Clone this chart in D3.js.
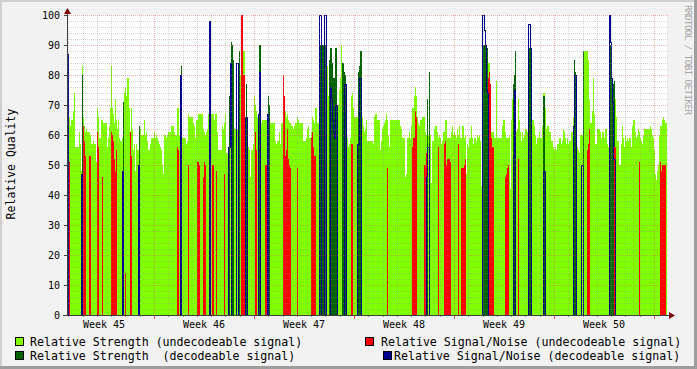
<!DOCTYPE html>
<html>
<head>
<meta charset="utf-8">
<script src="https://cdn.jsdelivr.net/npm/d3@7"></script>
<style>
html, body { margin: 0; padding: 0; background: #f2f2f2; }
svg { display: block; font-family: "DejaVu Sans Mono", monospace; }
text { white-space: pre; }
</style>
</head>
<body>
<svg id="chart" width="697" height="369"></svg>
<script>
// rrd archive: 600 consolidated rows over six weeks, one row every 100.8 minutes
var START = Date.UTC(2011, 10, 7, 21, 50, 24);
var STEP_MS = 100.8 * 60 * 1000;

// Relative Strength (undecodeable signal), one value per row
var strengthUndec = [
  72,72,66,63,65,65,68,74,56,56, 56,56,61,57,48,83,66,63,61,62,
  61,61,61,60,57,57,58,57,57,51, 69,66,59,59,65,65,64,64,64,64,
  56,59,63,69,83,69,67,64,72,65, 62,65,59,58,58,59,70,74,76,73,
  79,79,69,61,69,62,55,57,48,57, 55,55,63,62,60,60,60,65,60,61,
  58,55,55,57,59,59,59,61,59,60, 59,58,57,56,55,50,47,60,60,59,
  60,61,61,61,63,63,63,61,60,60, 69,69,60,60,60,59,59,59,59,57,
  58,67,66,66,66,66,64,63,59,65, 65,67,67,67,67,67,62,61,60,61,
  62,67,67,67,67,67,67,65,67,67, 61,55,55,55,55,63,62,64,67,54,
  54,54,54,65,65,65,65,62,62,62, 62,62,70,80,88,88,88,88,62,60,
  58,56,55,46,55,55,57,73,70,68, 66,67,67,67,64,65,65,65,65,65,
  65,65,64,64,64,64,64,64,58,57, 58,58,61,57,64,64,74,73,68,66,
  67,65,64,64,63,63,62,63,64,64, 66,65,64,64,64,64,58,58,58,59,
  62,63,59,59,61,66,65,64,69,69, 64,64,65,65,65,65,65,65,65,65,
  83,73,70,70,70,70,70,70,70,70, 69,70,75,79,90,70,70,65,62,60,
  59,56,57,59,73,74,69,66,66,66, 66,66,66,66,66,66,63,61,62,65,
  58,58,58,58,58,58,57,66,67,67, 65,65,65,55,58,62,63,64,65,67,
  65,60,56,65,65,65,65,65,65,65, 65,65,65,63,62,59,59,59,46,47,
  59,59,61,59,63,69,69,73,76,73, 66,64,63,65,65,66,66,66,61,60,
  60,60,60,60,44,58,58,62,63,63, 61,59,60,59,57,58,61,61,65,65,
  59,59,59,59,61,63,60,61,60,59, 62,60,63,59,59,63,63,59,60,47,
  57,56,59,59,63,59,57,59,59,58, 60,59,60,58,43,60,60,60,60,62,
  70,84,84,72,61,61,61,59,59,78, 59,59,59,59,59,63,65,65,61,59,
  59,59,60,42,65,72,62,62,62,61, 62,72,65,61,58,61,59,60,62,62,
  61,62,62,62,81,65,65,63,60,57, 59,59,61,59,59,63,74,74,69,62,
  63,63,61,61,58,58,56,55,56,55, 57,57,59,59,57,58,62,61,59,57,
  59,57,58,58,61,61,66,66,66,57, 56,55,54,60,60,60,88,88,88,88,
  88,85,72,64,64,68,79,67,57,57, 62,62,62,61,59,61,61,59,62,62,
  57,56,60,60,60,60,76,74,72,66, 58,58,50,50,57,63,59,56,60,58,
  59,58,59,59,56,63,65,65,61,59, 60,62,61,59,58,57,60,62,62,62,
  62,62,62,63,62,60,59,55,47,45, 48,50,60,63,63,65,66,65,64,64
];

// Relative Strength (decodeable signal): [row, value], zero elsewhere
var strengthDec = [
  [15,80],[56,71],[72,63],[114,83],[143,86],[162,73],[164,91],[165,90],[166,85],
  [172,88],[179,77],[192,90],[193,90],[201,73],[202,70],
  [252,90],[253,90],[254,90],[255,90],[256,90],[257,90],[258,90],
  [262,85],[263,89],[264,89],[265,84],[266,79],[267,79],[268,89],[269,89],
  [275,84],[276,84],[277,81],[278,80],[291,81],[292,83],[293,88],[294,88],
  [360,72],[362,81],[415,90],[416,90],[417,90],[418,90],[419,89],[420,89],
  [446,77],[447,80],[448,88],[462,89],[463,89],[476,73],[477,73],
  [507,85],[508,81],[516,88],[543,90],[544,84],[545,78],[546,77],[547,78]
];

// Relative Signal/Noise (undecodeable signal)
var snrUndec = [
  [1,58],[2,51],[16,63],[17,58],[18,53],[22,53],[23,53],[30,61],[31,56],[35,46],
  [44,61],[45,60],[46,58],[47,52],[48,48],[49,55],[58,14],[63,61],[64,53],
  [110,56],[111,55],[121,50],[130,51],[131,51],[132,50],[136,46],[137,51],[138,50],
  [145,50],[146,50],[149,48],[157,47],[174,100],[175,100],[176,80],[177,80],
  [188,61],[189,55],[198,50],[199,50],[216,80],[217,73],[218,53],[219,55],[220,62],
  [221,52],[222,50],[223,49],[230,49],[244,59],[245,61],[246,56],[247,53],[248,53],
  [270,46],[284,57],[285,57],[320,49],[345,56],[346,59],[347,59],[348,68],[349,66],
  [357,50],[358,50],[359,54],[371,56],[377,57],[378,58],[379,50],[380,52],[381,52],
  [382,52],[383,51],[391,57],[394,49],[395,49],[396,49],[397,50],[398,52],
  [421,79],[422,81],[423,77],[424,59],[425,56],[426,56],[438,46],[439,47],[440,49],
  [441,50],[451,52],[520,55],[521,57],[522,62],[547,56],[548,56],[572,51],
  [593,51],[594,48],[595,50],[596,50],[597,50],[598,50]
];

// Relative Signal/Noise (decodeable signal), drawn as a line
var snrDec = [
  [0,87],[14,47],[55,48],[71,50],[113,80],[142,98],[161,56],[162,56],[163,84],
  [169,84],[170,84],[178,66],[179,66],[191,67],[192,81],[200,67],
  [252,100],[253,100],[257,100],[258,100],[263,76],[264,72],[265,65],[266,61],
  [267,59],[268,70],[269,70],[277,77],[278,77],[290,57],[291,57],[292,79],[293,79],
  [359,46],[360,56],[361,56],[415,100],[416,100],[417,95],[418,90],[419,75],[420,74],
  [446,53],[447,75],[461,97],[462,97],[463,89],[476,48],[477,48],
  [506,63],[507,80],[508,80],[514,50],[515,50],[542,100],[543,91],[544,79],
  [545,71],[546,52],[547,52]
];

var yTicks = [0, 10, 20, 30, 40, 50, 60, 70, 80, 90, 100];
var legendLabels = [
  "Relative Strength (undecodeable signal)",
  "Relative Strength  (decodeable signal)",
  "Relative Signal/Noise (undecodeable signal)",
  "Relative Signal/Noise (decodeable signal)"
];
var colors = ["#7fff00", "#006400", "#ff0000", "#00008b"];

var N = strengthUndec.length;

function expand(pairs) {
  var out = strengthUndec.map(function() { return 0; });
  pairs.forEach(function(p) { out[p[0]] = p[1]; });
  return out;
}
function rows(values) {
  return values.concat([values[values.length - 1]]).map(function(v, i) {
    return { t: new Date(START + i * STEP_MS), v: v };
  });
}

var svg = d3.select("#chart");
var W = 697, H = 369;

var x = d3.scaleUtc()
  .domain([new Date(START), new Date(START + N * STEP_MS)])
  .range([67, 667]);
var y = d3.scaleLinear().domain([0, 100]).range([315, 15]);

// background and shaded frame
svg.append("rect").attr("width", W).attr("height", H).attr("fill", "#f2f2f2");
svg.append("path").attr("d", "M0,1H697M1,0V369").attr("stroke", "#cfcfcf").attr("stroke-width", 2);
svg.append("path").attr("d", "M0,367.5H697M695.5,0V369").attr("stroke", "#9e9e9e").attr("stroke-width", 3);

svg.append("rect").attr("x", 67).attr("y", 15).attr("width", 600).attr("height", 300).attr("fill", "#ffffff");

var area = d3.area()
  .x(function(d) { return x(d.t); })
  .y0(y(0))
  .y1(function(d) { return y(d.v); })
  .curve(d3.curveStepAfter);

var plot = svg.append("g").attr("shape-rendering", "crispEdges");
plot.append("path").datum(rows(strengthUndec)).attr("d", area).attr("fill", colors[0]);
plot.append("path").datum(rows(expand(strengthDec))).attr("d", area).attr("fill", colors[1]);
plot.append("path").datum(rows(expand(snrUndec))).attr("d", area).attr("fill", colors[2]);

var line = d3.line()
  .x(function(d) { return x(d.t); })
  .y(function(d) { return y(d.v); })
  .curve(d3.curveStepAfter);
plot.append("path").datum(rows(expand(snrDec)))
  .attr("transform", "translate(0.5,0.5)")
  .attr("d", line)
  .attr("fill", "none")
  .attr("stroke", colors[3])
  .attr("stroke-width", 1);

// grid, on top of the data like rrdtool does
var GRID = "rgba(143,143,143,0.38)", MGRID = "rgba(222,80,80,0.45)";
var grid = svg.append("g").attr("shape-rendering", "crispEdges").attr("stroke-dasharray", "1,1");
d3.range(2, 101, 2).forEach(function(v) {
  grid.append("line")
    .attr("x1", 67).attr("x2", 669)
    .attr("y1", Math.round(y(v)) + 0.5).attr("y2", Math.round(y(v)) + 0.5)
    .attr("stroke", v % 10 === 0 ? MGRID : GRID);
});
var days = d3.utcDay.range(d3.utcDay.ceil(new Date(START)), new Date(START + N * STEP_MS));
days.forEach(function(d) {
  var px = Math.round(x(d)) + 0.5;
  var major = d.getUTCDay() === 1;
  grid.append("line")
    .attr("x1", px).attr("x2", px).attr("y1", 15).attr("y2", 315)
    .attr("stroke", major ? MGRID : GRID);
  svg.append("line").attr("shape-rendering", "crispEdges")
    .attr("x1", px).attr("x2", px).attr("y1", 315).attr("y2", major ? 319 : 317)
    .attr("stroke", major ? "rgb(222,80,80)" : "#8f8f8f");
});

// axes
var axis = svg.append("g").attr("shape-rendering", "crispEdges").attr("stroke", "#404040");
axis.append("line").attr("x1", 67.5).attr("x2", 67.5).attr("y1", 315).attr("y2", 12);
axis.append("line").attr("x1", 63).attr("x2", 670).attr("y1", 315.5).attr("y2", 315.5);
yTicks.forEach(function(v) {
  axis.append("line").attr("x1", 64).attr("x2", 67)
    .attr("y1", Math.round(y(v)) + 0.5).attr("y2", Math.round(y(v)) + 0.5);
});
svg.append("path").attr("d", "M67.5,8L64,14L71,14Z").attr("fill", "#7f0000");
svg.append("path").attr("d", "M675,315.5L669,312L669,319Z").attr("fill", "#7f0000");

// tick labels
svg.append("g").selectAll("text").data(yTicks).join("text")
  .attr("x", 60).attr("y", function(v) { return y(v); }).attr("dy", "0.36em")
  .attr("text-anchor", "end").attr("font-size", 10).attr("fill", "#000")
  .text(function(v) { return v; });

var weekFmt = d3.utcFormat("Week %V");
var weeks = d3.utcMonday.range(d3.utcMonday.floor(new Date(START)), new Date(START + N * STEP_MS));
svg.append("g").selectAll("text").data(weeks.filter(function(w) {
    var c = x(d3.utcHour.offset(w, 84));
    return c > 67 && c < 667;
  })).join("text")
  .attr("x", function(w) { return x(d3.utcHour.offset(w, 84)); })
  .attr("y", 328)
  .attr("text-anchor", "middle").attr("font-size", 10).attr("fill", "#000")
  .text(function(w) { return weekFmt(w); });

// axis title
svg.append("text")
  .attr("transform", "translate(15,164) rotate(-90)")
  .attr("text-anchor", "middle").attr("font-size", 11.5).attr("fill", "#000")
  .text("Relative Quality");

// watermark
svg.append("text")
  .attr("transform", "translate(685,5) rotate(90)")
  .attr("font-size", 9.2).attr("fill", "#a4a4a4")
  .attr("textLength", 110).attr("lengthAdjust", "spacing")
  .text("RRDTOOL / TOBI OETIKER");

// legend
var legendPos = [
  { bx: 15, tx: 30, y: 337 },
  { bx: 15, tx: 30, y: 351 },
  { bx: 365, tx: 381, y: 337 },
  { bx: 383, tx: 394, y: 351 }
];
var legend = svg.append("g");
legendLabels.forEach(function(label, i) {
  var p = legendPos[i];
  legend.append("rect")
    .attr("x", p.bx + 0.5).attr("y", p.y + 0.5).attr("width", 8).attr("height", 8)
    .attr("fill", colors[i]).attr("stroke", "#000").attr("stroke-width", 1)
    .attr("shape-rendering", "crispEdges");
  legend.append("text")
    .attr("x", p.tx).attr("y", p.y + 8.5)
    .attr("font-size", 11.6).attr("fill", "#000")
    .text(label);
});
</script>
</body>
</html>
